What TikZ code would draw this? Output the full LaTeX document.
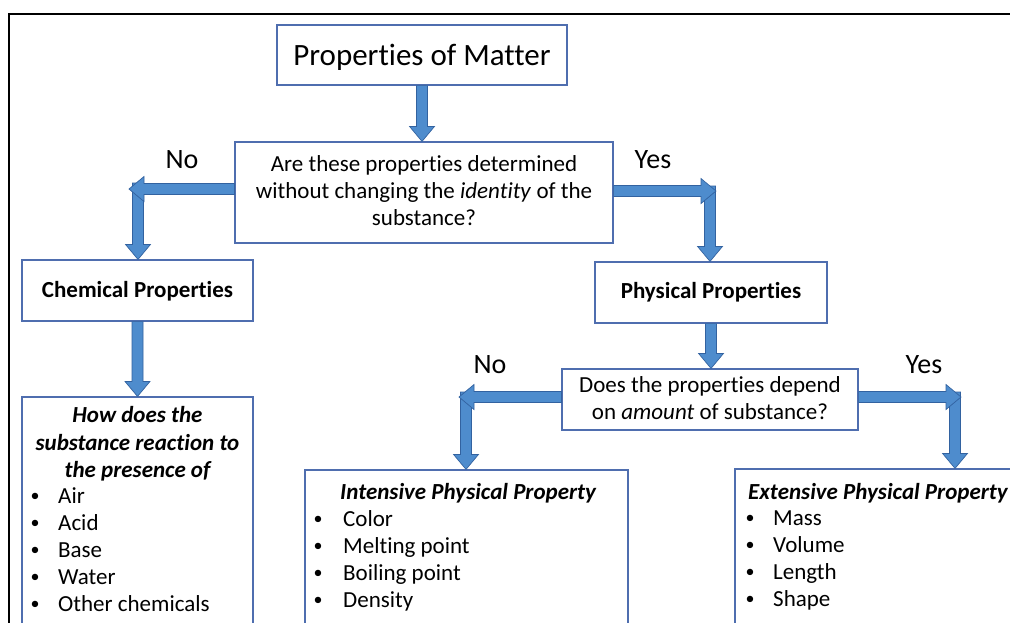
\documentclass[tikz,border=0pt]{standalone}
\usepackage{fontspec}
\setmainfont[Ligatures={NoCommon,NoRequired,NoContextual}]{Carlito}
\usetikzlibrary{calc}
\definecolor{boxline}{RGB}{79,110,175}
\definecolor{arrfill}{RGB}{78,140,205}
\definecolor{arrline}{RGB}{50,98,160}
\tikzset{
  box/.style={draw=boxline, line width=1.2pt, fill=white, inner sep=0pt},
  txt/.style={inner sep=0pt, anchor=base, font=\fontsize{23}{27}\selectfont},
  txtl/.style={txt, anchor=base west},
  bul/.style={inner sep=0pt, anchor=base, font=\fontsize{18}{22}\selectfont},
  ttl/.style={inner sep=0pt, anchor=base, font=\fontsize{31}{36}\selectfont},
  lbl/.style={inner sep=0pt, anchor=base, font=\fontsize{28}{32}\selectfont},
  blk/.style={fill=arrfill, draw=arrline, line width=0.7pt, line join=miter},
}
% vertical arrow: x from start, tip y from end
\newcommand{\downarr}[2]{%
  \path[blk] let \p1=#1, \p2=#2 in (\x1-5.5pt,\y1) -- (\x1+5.5pt,\y1) -- (\x1+5.5pt,\y2+15pt) -- (\x1+12.5pt,\y2+15pt) -- (\x1,\y2) -- (\x1-12.5pt,\y2+15pt) -- (\x1-5.5pt,\y2+15pt) -- cycle;}
% horizontal arrows: x from start, tip at end (y from end)
\newcommand{\leftarr}[2]{%
  \path[blk] let \p1=#1, \p2=#2 in (\x1,\y2+5.5pt) -- (\x2+15pt,\y2+5.5pt) -- (\x2+15pt,\y2+12.5pt) -- (\x2,\y2) -- (\x2+15pt,\y2-12.5pt) -- (\x2+15pt,\y2-5.5pt) -- (\x1,\y2-5.5pt) -- cycle;}
\newcommand{\rightarr}[2]{%
  \path[blk] let \p1=#1, \p2=#2 in (\x1,\y2+5.5pt) -- (\x2-15pt,\y2+5.5pt) -- (\x2-15pt,\y2+12.5pt) -- (\x2,\y2) -- (\x2-15pt,\y2-12.5pt) -- (\x2-15pt,\y2-5.5pt) -- (\x1,\y2-5.5pt) -- cycle;}
\begin{document}
\begin{tikzpicture}[x=1pt,y=-1pt]
\useasboundingbox (0,0) rectangle (1010,622);
\clip (0,0) rectangle (1010,622);
\fill[white] (0,0) rectangle (1010,622);
% frame
\draw[line width=2pt] (1015,13.5) -- (9,13.5) -- (9,630);

% boxes
\node[box, minimum width=290pt, minimum height=60pt] (title) at (422,55) {};
\node[box, minimum width=378pt, minimum height=101pt] (q1) at (424,192.5) {};
\node[box, minimum width=231pt, minimum height=61pt] (chem) at (137.5,290.5) {};
\node[box, minimum width=232pt, minimum height=61pt] (phys) at (711,292.5) {};
\node[box, minimum width=296pt, minimum height=61pt] (q2) at (710,399.5) {};
\node[box, minimum width=231pt, minimum height=263pt] (chemlist) at (137.5,528.5) {};
\node[box, minimum width=323pt, minimum height=190pt] (intens) at (466.5,565) {};
\node[box, minimum width=280pt, minimum height=191pt] (extens) at (875,564.5) {};

% corner coordinates of the bent arrows
\coordinate (l1c) at (129,189);
\coordinate (l1v) at (138,183);
\coordinate (r1c) at (716,191);
\coordinate (r1v) at (710,186);
\coordinate (l2c) at (459,397);
\coordinate (l2v) at (466,392);
\coordinate (r2c) at (961,397);
\coordinate (r2v) at (955,392);

% arrows
\downarr{(title.south)}{(q1.north)}
\downarr{(l1v)}{(chem.north)}
\leftarr{(q1.west)}{(l1c)}
\downarr{(r1v)}{(phys.north)}
\rightarr{(q1.east)}{(r1c)}
\downarr{(chem.south)}{(chemlist.north)}
\downarr{(phys.south)}{(q2.north)}
\downarr{(l2v)}{(intens.north)}
\leftarr{(q2.west)}{(l2c)}
\downarr{(r2v)}{(extens.north)}
\rightarr{(q2.east)}{(r2c)}

% texts
\node[ttl] (t0) at (422,65) {Properties of Matter};
\node[txt] (q1a) at (424,171) {Are these properties determined};
\node[txt] (q1b) at (424,198) {without changing the \textit{identity} of the};
\node[txt] (q1c) at (424,225) {substance?};
\node[lbl] (no1) at (182,168) {No};
\node[lbl] (yes1) at (653,168) {Yes};
\node[txt, font=\fontsize{23}{27}\selectfont\bfseries] (chemt) at (137.5,297) {Chemical Properties};
\node[txt, font=\fontsize{23}{27}\selectfont\bfseries] (phyt) at (711,298) {Physical Properties};
\node[txt] (q2a) at (710,392) {Does the properties depend};
\node[txt] (q2b) at (710,419) {on \textit{amount} of substance?};
\node[lbl] (no2) at (490,373) {No};
\node[lbl] (yes2) at (924,373) {Yes};

% chemical list
\node[txt, font=\fontsize{23}{27}\selectfont\bfseries\itshape] (ch1) at (137.5,422) {How does the};
\node[txt, font=\fontsize{23}{27}\selectfont\bfseries\itshape] (ch2) at (137.5,450) {substance reaction to};
\node[txt, font=\fontsize{23}{27}\selectfont\bfseries\itshape] (ch3) at (137.5,477) {the presence of};
\foreach \t/\y [count=\i] in {Air/503, Acid/530, Base/557, Water/584, Other chemicals/611}{
  \node[bul] (cb\i) at (35,\y-2) {•};
  \node[txtl] (ci\i) at (58,\y) {\t};
}
% intensive
\node[txtl, font=\fontsize{23}{27}\selectfont\bfseries\itshape] (int) at (340,499) {Intensive Physical Property};
\foreach \t/\y [count=\i] in {Color/526, Melting point/553, Boiling point/580, Density/607}{
  \node[bul] (ib\i) at (318,\y-2) {•};
  \node[txtl] (ii\i) at (343,\y) {\t};
}
% extensive
\node[txtl, font=\fontsize{23}{27}\selectfont\bfseries\itshape] (ext) at (748,499) {Extensive Physical Property};
\foreach \t/\y [count=\i] in {Mass/525, Volume/552, Length/579, Shape/606}{
  \node[bul] (eb\i) at (750,\y-2) {•};
  \node[txtl] (ei\i) at (773,\y) {\t};
}
\end{tikzpicture}
\end{document}
